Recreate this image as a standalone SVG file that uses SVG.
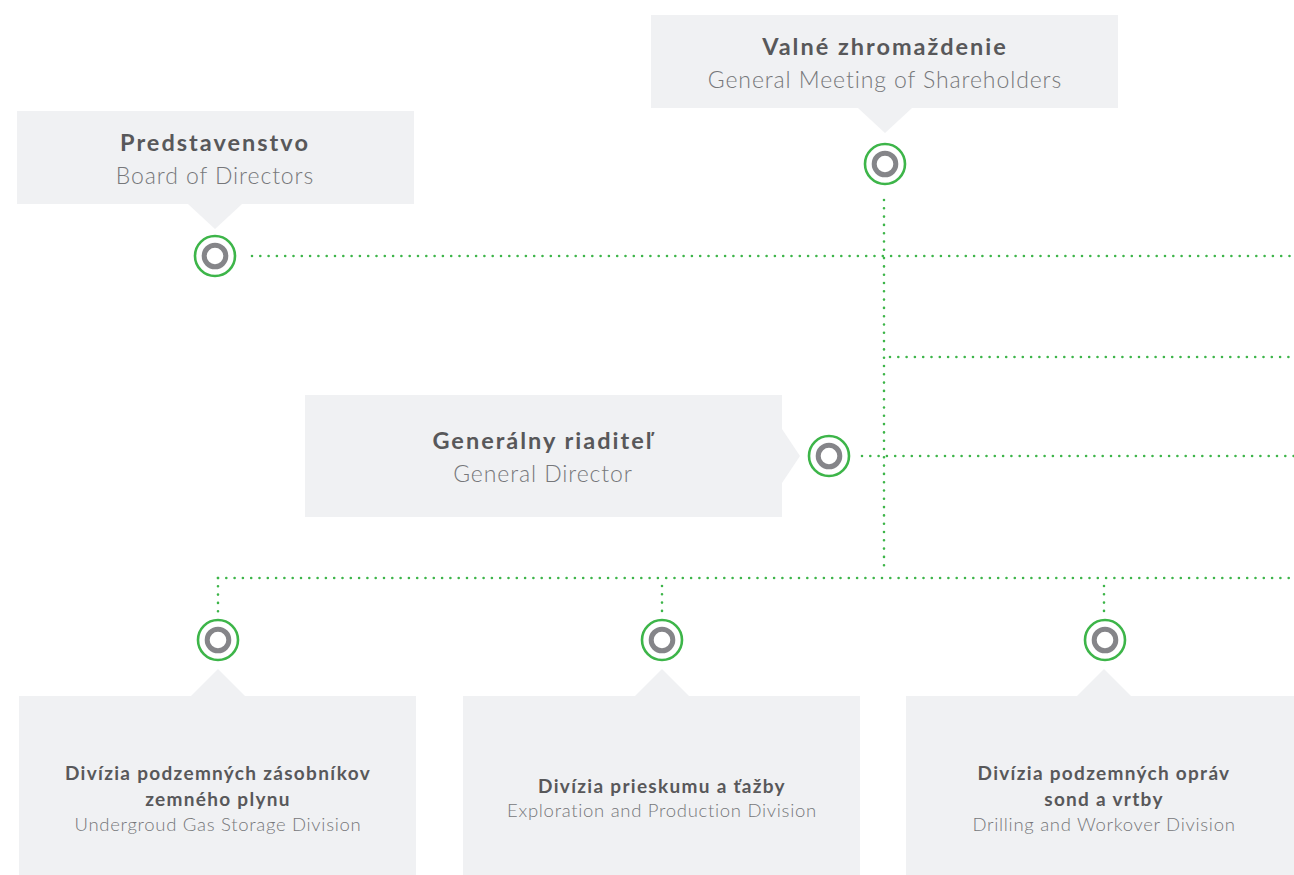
<svg xmlns="http://www.w3.org/2000/svg" width="1294" height="875" viewBox="0 0 1294 875">
<style>
.box{fill:#f0f1f3}
.t{font-family:Lato,"Open Sans","DejaVu Sans",sans-serif;text-anchor:middle}
.h{font-size:23.5px;font-weight:700;fill:#58585a;letter-spacing:2px}
.s{font-size:23px;font-weight:300;fill:#76777a;letter-spacing:0.9px}
.hs{font-size:19px;font-weight:700;fill:#58585a;letter-spacing:1.3px}
.ss{font-size:18.5px;font-weight:300;fill:#76777a;letter-spacing:0.7px}
.dot{fill:none;stroke:#3db549;stroke-width:2.6;stroke-linecap:round;stroke-dasharray:0 8.3}
.ro{fill:#fff;stroke:#3db549;stroke-width:2.6}
.ri{fill:none;stroke:#858589;stroke-width:5}
</style>
<defs>
<g id="ring"><circle r="20" class="ro"/><circle r="10.8" class="ri"/></g>
</defs>
<rect width="1294" height="875" fill="#fff"/>
<g id="connectors">
<path class="dot" d="M884 200V570"/>
<path class="dot" d="M252 256H1294"/>
<path class="dot" d="M890 357H1294"/>
<path class="dot" d="M862 456H1294"/>
<path class="dot" d="M218 578H1294"/>
<path class="dot" d="M218 578V612"/>
<path class="dot" d="M662 586V612"/>
<path class="dot" d="M1104 586V612"/>
</g>
<g id="n-valne">
<rect class="box" x="651" y="15" width="467" height="93"/>
<path class="box" d="M858 108H912L885 133Z"/>
<text class="t h" x="885" y="55">Valné zhromaždenie</text>
<text class="t s" x="885" y="88">General Meeting of Shareholders</text>
<use href="#ring" x="885" y="164"/>
</g>
<g id="n-predstavenstvo">
<rect class="box" x="17" y="111" width="397" height="93"/>
<path class="box" d="M188 204H242L215 229Z"/>
<text class="t h" x="215" y="151">Predstavenstvo</text>
<text class="t s" x="215" y="184">Board of Directors</text>
<use href="#ring" x="215" y="256"/>
</g>
<g id="n-gr">
<rect class="box" x="305" y="395" width="477" height="122"/>
<path class="box" d="M782 429V483L800 456Z"/>
<text class="t h" x="543" y="449">Generálny riaditeľ</text>
<text class="t s" x="543" y="482">General Director</text>
<use href="#ring" x="829" y="456"/>
</g>
<g id="n-zasobniky">
<rect class="box" x="19" y="696" width="397" height="179"/>
<path class="box" d="M191 696H245L218 669Z"/>
<text class="t hs" x="218" y="780">Divízia podzemných zásobníkov</text>
<text class="t hs" x="218" y="806">zemného plynu</text>
<text class="t ss" x="218" y="831">Undergroud Gas Storage Division</text>
<use href="#ring" x="218" y="640"/>
</g>
<g id="n-prieskum">
<rect class="box" x="463" y="696" width="397" height="179"/>
<path class="box" d="M635 696H689L662 669Z"/>
<text class="t hs" x="662" y="793">Divízia prieskumu a ťažby</text>
<text class="t ss" x="662" y="817">Exploration and Production Division</text>
<use href="#ring" x="662" y="640"/>
</g>
<g id="n-opravy">
<rect class="box" x="906" y="696" width="397" height="179"/>
<path class="box" d="M1077 696H1131L1104 669Z"/>
<text class="t hs" x="1104" y="780">Divízia podzemných opráv</text>
<text class="t hs" x="1104" y="806">sond a vrtby</text>
<text class="t ss" x="1104" y="831">Drilling and Workover Division</text>
<use href="#ring" x="1105" y="640"/>
</g>
</svg>
